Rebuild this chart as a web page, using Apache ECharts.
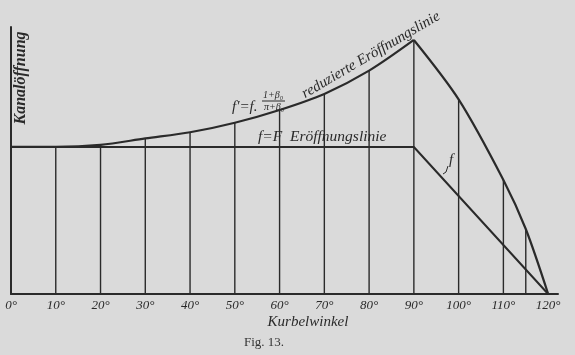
<!DOCTYPE html>
<html>
<head>
<meta charset="utf-8">
<script src="https://cdn.jsdelivr.net/npm/echarts@6/dist/echarts.min.js"></script>
<style>
  html, body { margin: 0; padding: 0; background: #dadada; }
  #chart { width: 575px; height: 355px; }
</style>
</head>
<body>
<div id="chart"></div>
<script>
// Kurbelwinkel in degrees, opening in units of F (f = F line = 1)
const riseAngles = [0, 10, 20, 30, 40, 50, 60, 70, 80, 90];
const riseValues = [1, 1, 1.014, 1.058, 1.10, 1.165, 1.252, 1.361, 1.519, 1.728];
const fallAngles = [90, 100, 110, 115, 120];
const fallValues = [1.728, 1.324, 0.776, 0.442, 0];
const openAngles = [0, 90, 120];
const openValues = [1, 1, 0];
const ordAngles = [10, 20, 30, 40, 50, 60, 70, 80, 90, 100, 110, 115];
const ordValues = [1, 1.014, 1.058, 1.10, 1.165, 1.252, 1.361, 1.519, 1.728, 1.324, 0.776, 0.442];

const ink = "#2a2a2a";
const hand = "'Liberation Serif', 'DejaVu Serif', serif";

const zip = (a, b) => a.map((x, i) => [x, b[i]]);

const chart = echarts.init(document.getElementById("chart"));

const option = {
  backgroundColor: "#dadada",
  animation: false,
  grid: { left: 11, right: 17, top: 27, bottom: 61 },
  xAxis: {
    type: "value",
    min: 0,
    max: 122.2,
    interval: 10,
    axisLine: { lineStyle: { color: ink, width: 2 } },
    axisTick: { show: false },
    splitLine: { show: false },
    axisLabel: {
      color: ink,
      fontFamily: hand,
      fontStyle: "italic",
      fontSize: 13,
      margin: 5,
      formatter: (v) => (v % 10 === 0 && v <= 120 ? v + "°" : "")
    }
  },
  yAxis: {
    type: "value",
    min: 0,
    max: 1.816,
    axisLine: { show: true, lineStyle: { color: ink, width: 2 } },
    axisTick: { show: false },
    axisLabel: { show: false },
    splitLine: { show: false }
  },
  series: [
    {
      name: "ordinates",
      type: "bar",
      data: zip(ordAngles, ordValues),
      barWidth: 1.4,
      itemStyle: { color: ink },
      silent: true
    },
    {
      name: "f",
      type: "line",
      data: zip(openAngles, openValues),
      symbol: "none",
      lineStyle: { color: ink, width: 2 }
    },
    {
      name: "reduzierte Eröffnungslinie",
      type: "line",
      data: zip(riseAngles, riseValues),
      smooth: 0.3,
      symbol: "none",
      lineStyle: { color: ink, width: 2.2 }
    },
    {
      name: "reduzierte Eröffnungslinie ab",
      type: "line",
      data: zip(fallAngles, fallValues),
      smooth: 0.3,
      symbol: "none",
      lineStyle: { color: ink, width: 2.2 }
    }
  ],
  graphic: [
    {
      type: "text", x: 21, y: 78, rotation: Math.PI / 2,
      style: { text: "Kanalöffnung", font: "italic bold 16px " + hand, fill: ink, align: "center", verticalAlign: "middle" }
    },
    {
      type: "text", x: 308, y: 322,
      style: { text: "Kurbelwinkel", font: "italic 15px " + hand, fill: ink, align: "center", verticalAlign: "middle" }
    },
    {
      type: "text", x: 264, y: 343,
      style: { text: "Fig. 13.", font: "13px 'Liberation Serif', serif", fill: "#333", align: "center", verticalAlign: "middle" }
    },
    {
      type: "text", x: 258, y: 137,
      style: { text: "f=F  Eröffnungslinie", font: "italic 15.5px " + hand, fill: ink, align: "left", verticalAlign: "middle" }
    },
    {
      type: "text", x: 371, y: 55, rotation: 0.53,
      style: { text: "reduzierte Eröffnungslinie", font: "italic 15px " + hand, fill: ink, align: "center", verticalAlign: "middle" }
    },
    {
      type: "text", x: 232, y: 107,
      style: { text: "f′=f.", font: "italic 15px " + hand, fill: ink, align: "left", verticalAlign: "middle" }
    },
    {
      type: "text", x: 273, y: 95,
      style: { text: "1+β₀", font: "italic 10px " + hand, fill: ink, align: "center", verticalAlign: "middle" }
    },
    {
      type: "line", shape: { x1: 262, y1: 101, x2: 285, y2: 101 },
      style: { stroke: ink, lineWidth: 1 }
    },
    {
      type: "text", x: 274, y: 107,
      style: { text: "π+β₀", font: "italic 10px " + hand, fill: ink, align: "center", verticalAlign: "middle" }
    },
    {
      type: "text", x: 451, y: 160,
      style: { text: "f", font: "italic 15px " + hand, fill: ink, align: "center", verticalAlign: "middle" }
    },
    {
      type: "polyline", shape: { points: [[443, 174], [446, 172], [448, 166]] },
      style: { stroke: ink, lineWidth: 1, fill: null }
    }
  ]
};

chart.setOption(option);
</script>
</body>
</html>
